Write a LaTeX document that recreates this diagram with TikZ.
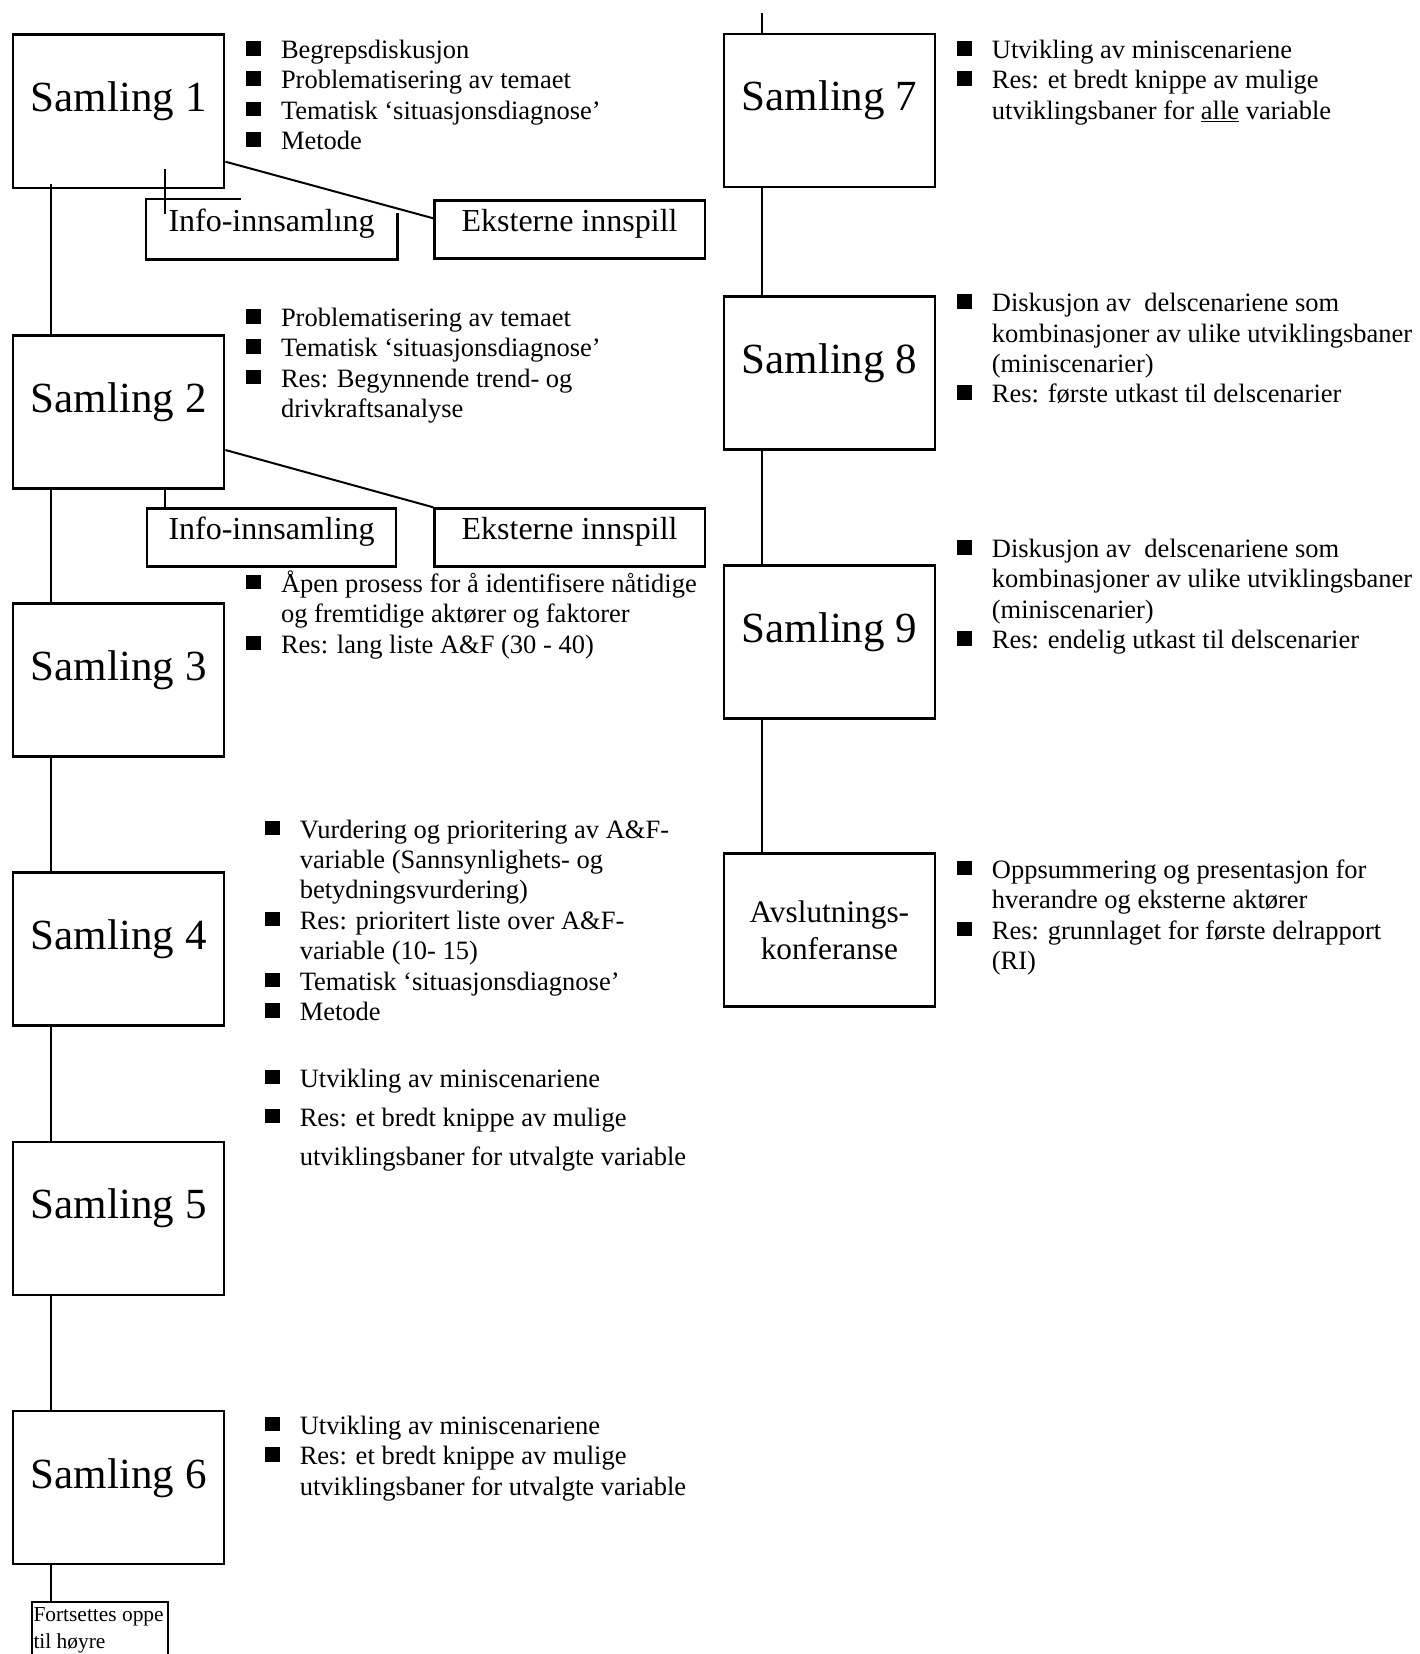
\documentclass[tikz,border=0pt]{standalone}
\usepackage{fontspec}
\setmainfont{Liberation Serif}
\usetikzlibrary{calc}
\newcommand\bq{\makebox[34.8pt][l]{\rule[3pt]{15pt}{14.5pt}}}
\newcommand\bc{\hspace*{34.8pt}}
\newcommand\fst{\rule{0pt}{26pt}}
\begin{document}
\begin{tikzpicture}[x=1pt,y=-1pt,
  sbox/.style={draw, line width=2.4pt, inner sep=0pt, minimum width=211pt, text height=77pt, text depth=76pt, font=\fontsize{43}{48}\selectfont},
  abox/.style={draw, line width=2.4pt, inner sep=0pt, minimum width=211pt, minimum height=153pt, align=center, font=\fontsize{31.3}{36.5}\selectfont},
  ibox/.style={draw, line width=2.2pt, inner sep=0pt, minimum width=249.4pt, text height=31pt, text depth=27pt, font=\fontsize{32}{36}\selectfont},
  ebox/.style={ibox, minimum width=270.4pt},
  bline/.style={line width=2.2pt},
  blist/.style={anchor=north west, inner sep=0pt, align=left, font=\fontsize{26.5}{30.4}\selectfont},
  conn/.style={line width=2pt},
]
\path[use as bounding box] (0,0) rectangle (1419,1654);
\clip (0,0) rectangle (1419,1654);

% left column boxes
\node[sbox, anchor=north west] (s1) at (12,33.5) {Samling 1};
\node[sbox, anchor=north west] (s2) at (12,334.4) {Samling 2};
\node[sbox, anchor=north west] (s3) at (12,602.4) {Samling 3};
\node[sbox, anchor=north west] (s4) at (12,871.4) {Samling 4};
\node[sbox, anchor=north west] (s5) at (12,1140.5) {Samling 5};
\node[sbox, anchor=north west] (s6) at (12,1409.8) {Samling 6};

% right column boxes
\node[sbox, anchor=north west] (s7) at (722.7,32.7) {Samling 7};
\node[sbox, anchor=north west] (s8) at (722.7,295.4) {Samling 8};
\node[sbox, anchor=north west] (s9) at (722.7,564.4) {Samling 9};
\node[abox, anchor=north west] (avsl) at (722.7,852.4) {Avslutnings-\\konferanse};

% info / external boxes
\node[ibox, draw=none, anchor=north west] (i1) at (145.8,199.3) {Info-innsaml\i ng};
\draw[bline] ($(i1.north west)+(95,0)$) -- (i1.north west) -- (i1.south west) -- (i1.south east) -- ($(i1.south east)+(0,-47)$);
\node[ebox, anchor=north west] (e1) at (433.3,199.3) {Eksterne innspill};
\node[ibox, anchor=north west] (i2) at (145.8,507.3) {Info-innsamling};
\node[ebox, anchor=north west] (e2) at (433.3,507.3) {Eksterne innspill};

% continuation box
\node[draw, line width=2pt, anchor=north west, minimum width=135.7pt, minimum height=80pt, inner sep=0pt] (fort) at (31,1601) {};
\node[anchor=north west, inner sep=0pt, align=left, font=\fontsize{21.4}{26.6}\selectfont] (forttxt) at (33.3,1601.7) {\rule{0pt}{20pt}Fortsettes oppe\\til høyre};

\coordinate (top7) at (761.7,13);

% connectors left
\draw[conn] ($(s1.south west)+(38.6,-5)$) -- ($(s2.north west)+(38.6,0)$);
\draw[conn] ($(s1.south west)+(153,-20)$) -- ($(i1.north west)+(19.2,15)$);
\draw[conn] ($(s1.north east)+(0,128.2)$) -- ($(e1.north west)+(0,19)$);
\draw[conn] ($(s2.south west)+(38.6,0)$) -- ($(s3.north west)+(38.6,0)$);
\draw[conn] ($(s2.south west)+(153,0)$) -- ($(i2.north west)+(19.2,0)$);
\draw[conn] ($(s2.north east)+(0,115.6)$) -- (e2.north west);
\draw[conn] ($(s3.south west)+(38.6,0)$) -- ($(s4.north west)+(38.6,0)$);
\draw[conn] ($(s4.south west)+(38.6,0)$) -- ($(s5.north west)+(38.6,0)$);
\draw[conn] ($(s5.south west)+(38.6,0)$) -- ($(s6.north west)+(38.6,0)$);
\draw[conn] ($(s6.south west)+(38.6,0)$) -- (fort.north west -| {$(s6.south west)+(38.6,0)$});

% connectors right
\draw[conn] (top7) -- (top7 |- s7.north);
\draw[conn] ($(s7.south west)+(39,0)$) -- ($(s8.north west)+(39,0)$);
\draw[conn] ($(s8.south west)+(39,0)$) -- ($(s9.north west)+(39,0)$);
\draw[conn] ($(s9.south west)+(39,0)$) -- ($(avsl.north west)+(39,0)$);

% bullet lists
\node[blist] (l1) at (246,32.3) {\fst\bq Begrepsdiskusjon\\\bq Problematisering av temaet\\\bq Tematisk ‘situasjonsdiagnose’\\\bq Metode};
\node[blist] (l2) at (246,300.3) {\fst\bq Problematisering av temaet\\\bq Tematisk ‘situasjonsdiagnose’\\\bq Res: Begynnende trend- og\\\bc drivkraftsanalyse};
\node[blist] (l3) at (246,566.1) {\fst\bq Åpen prosess for å identifisere nåtidige\\\bc og fremtidige aktører og faktorer\\\bq Res: lang liste A\&F (30 - 40)};
\node[blist] (l4) at (264.8,811.9) {\fst\bq Vurdering og prioritering av A\&F-\\\bc variable (Sannsynlighets- og\\\bc betydningsvurdering)\\\bq Res: prioritert liste over A\&F-\\\bc variable (10- 15)\\\bq Tematisk ‘situasjonsdiagnose’\\\bq Metode};
\node[blist, font=\fontsize{26.5}{39}\selectfont] (l5) at (264.8,1060.9) {\fst\bq Utvikling av miniscenariene\\\bq Res: et bredt knippe av mulige\\\bc utviklingsbaner for utvalgte variable};
\node[blist] (l6) at (264.8,1408) {\fst\bq Utvikling av miniscenariene\\\bq Res: et bredt knippe av mulige\\\bc utviklingsbaner for utvalgte variable};
\node[blist] (r7) at (956.9,32.3) {\fst\bq Utvikling av miniscenariene\\\bq Res: et bredt knippe av mulige\\\bc utviklingsbaner for \underline{alle} variable};
\node[blist] (r8) at (956.9,285.5) {\fst\bq Diskusjon av\ \ delscenariene som\\\bc kombinasjoner av ulike utviklingsbaner\\\bc (miniscenarier)\\\bq Res: første utkast til delscenarier};
\node[blist] (r9) at (956.9,531.3) {\fst\bq Diskusjon av\ \ delscenariene som\\\bc kombinasjoner av ulike utviklingsbaner\\\bc (miniscenarier)\\\bq Res: endelig utkast til delscenarier};
\node[blist] (ra) at (956.9,852) {\fst\bq Oppsummering og presentasjon for\\\bc hverandre og eksterne aktører\\\bq Res: grunnlaget for første delrapport\\\bc (RI)};
\end{tikzpicture}
\end{document}
